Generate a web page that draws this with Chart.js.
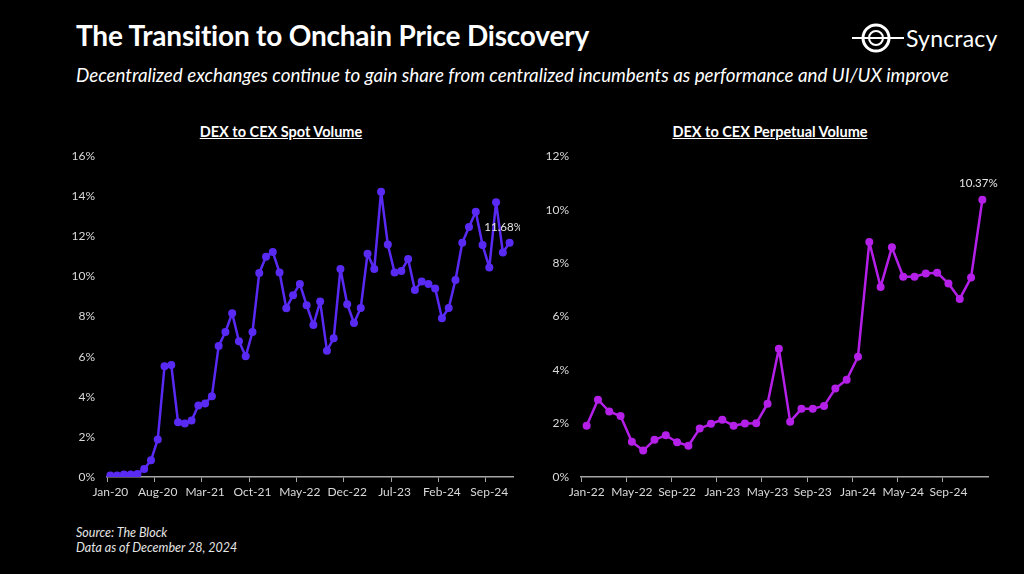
<!DOCTYPE html>
<html>
<head>
<meta charset="utf-8">
<script src="https://cdn.jsdelivr.net/npm/chart.js@4"></script>
<style>
  html, body { margin: 0; padding: 0; background: #000; }
  body { width: 1024px; height: 574px; position: relative; overflow: hidden; font-family: Lato, "Open Sans", sans-serif; color: #fff; }
  .title { position: absolute; left: 76px; top: 18px; font-size: 28px; font-weight: bold; letter-spacing: -0.2px; }
  .subtitle { position: absolute; left: 76px; top: 63px; font-size: 18.8px; font-style: italic; }
  .chart-title { position: absolute; top: 123px; font-size: 14.5px; font-weight: bold; text-decoration: underline; text-align: center; width: 300px; }
  .logo { position: absolute; left: 852px; top: 20px; display: flex; align-items: center; }
  .logo span { font-size: 23px; margin-left: 2px; letter-spacing: 0.2px; }
  .foot { position: absolute; left: 76px; top: 525px; font-size: 12.5px; font-style: italic; line-height: 15px; color: #e6e6e6; }
  .box { position: absolute; top: 145px; height: 360px; }
</style>
</head>
<body>
<div class="title">The Transition to Onchain Price Discovery</div>
<div class="subtitle">Decentralized exchanges continue to gain share from centralized incumbents as performance and UI/UX improve</div>
<div class="logo">
  <svg width="52" height="36" viewBox="0 0 52 36">
    <line x1="0" y1="18" x2="52" y2="18" stroke="#fff" stroke-width="2"/>
    <circle cx="24" cy="18" r="13" fill="none" stroke="#fff" stroke-width="3"/>
    <circle cx="24" cy="18" r="7" fill="none" stroke="#fff" stroke-width="2"/>
  </svg>
  <span>Syncracy</span>
</div>
<div class="chart-title" style="left:131px">DEX to CEX Spot Volume</div>
<div class="chart-title" style="left:620px">DEX to CEX Perpetual Volume</div>
<div class="box" style="left:60px;width:460px"><canvas id="spotChart"></canvas></div>
<div class="box" style="left:540px;width:460px"><canvas id="perpChart"></canvas></div>
<div class="foot">Source: The Block<br>Data as of December 28, 2024</div>

<script>
// DEX / CEX ratios (percent)
const spotMonths = [];
const perpMonths = [];
const MON = ['Jan','Feb','Mar','Apr','May','Jun','Jul','Aug','Sep','Oct','Nov','Dec'];
for (let y = 20; y <= 24; y++) for (let m = 0; m < 12; m++) spotMonths.push(MON[m] + '-' + y);
for (let y = 22; y <= 24; y++) for (let m = 0; m < 12; m++) perpMonths.push(MON[m] + '-' + y);

const spotValues = [
  0.07, 0.07, 0.12, 0.12, 0.15, 0.40, 0.83, 1.87, 5.52, 5.58,
  2.73, 2.67, 2.82, 3.57, 3.67, 4.03, 6.53, 7.23, 8.17, 6.77,
  6.02, 7.23, 10.17, 10.98, 11.22, 10.20, 8.42, 9.07, 9.63, 8.57,
  7.58, 8.75, 6.30, 6.92, 10.37, 8.62, 7.68, 8.43, 11.13, 10.38,
  14.23, 11.60, 10.20, 10.28, 10.87, 9.33, 9.75, 9.62, 9.40, 7.92,
  8.43, 9.83, 11.68, 12.47, 13.23, 11.57, 10.45, 13.70, 11.20, 11.68
];
const perpValues = [
  1.92, 2.89, 2.45, 2.28, 1.32, 0.99, 1.39, 1.56, 1.30, 1.17,
  1.81, 1.99, 2.14, 1.92, 2.00, 2.01, 2.74, 4.80, 2.07, 2.55,
  2.55, 2.66, 3.31, 3.64, 4.50, 8.79, 7.11, 8.59, 7.49, 7.49,
  7.61, 7.64, 7.24, 6.66, 7.46, 10.37
];

const spotColor = '#5a2af5';
const perpColor = '#b420e8';
const axisGrey = '#a6a6a6';
const tickText = '#d9d9d9';

// label the last point of a series
const lastLabel = {
  id: 'lastLabel',
  afterDatasetsDraw(chart, args, opts) {
    const meta = chart.getDatasetMeta(0);
    const pt = meta.data[meta.data.length - 1];
    const v = chart.data.datasets[0].data[meta.data.length - 1];
    const ctx = chart.ctx;
    ctx.save();
    ctx.fillStyle = '#e6e6e6';
    ctx.font = '11.5px Lato, "Open Sans", sans-serif';
    ctx.textAlign = 'center';
    ctx.textBaseline = 'middle';
    ctx.fillText(v.toFixed(2) + '%', pt.x + opts.dx, pt.y + opts.dy);
    ctx.restore();
  }
};

function makeChart(id, labels, values, color, yMax, every, yWidth, padRight, labelOffset) {
  new Chart(document.getElementById(id), {
    type: 'line',
    data: {
      labels: labels,
      datasets: [{
        data: values,
        borderColor: color,
        backgroundColor: color,
        borderWidth: 2.5,
        borderJoinStyle: 'round',
        pointRadius: 4,
        pointBackgroundColor: color,
        pointBorderWidth: 0,
        tension: 0
      }]
    },
    plugins: [lastLabel],
    options: {
      responsive: true,
      maintainAspectRatio: false,
      animation: false,
      layout: { padding: { top: 6, right: padRight, left: 0, bottom: 0 } },
      plugins: {
        legend: { display: false },
        tooltip: { enabled: false },
        lastLabel: labelOffset
      },
      scales: {
        x: {
          offset: true,
          grid: {
            offset: true,
            drawOnChartArea: false,
            drawTicks: true,
            tickLength: 5,
            color: (c) => (c.index % every === 0 ? axisGrey : 'rgba(0,0,0,0)')
          },
          border: { display: true, color: axisGrey, width: 1.5 },
          ticks: {
            autoSkip: false,
            maxRotation: 0,
            color: tickText,
            padding: 3,
            font: { family: 'Lato, "Open Sans", sans-serif', size: 12 },
            callback: function (val, i) { return i % every === 0 ? this.getLabelForValue(val) : ''; }
          },
          afterFit: (s) => { s.height = 28; }
        },
        y: {
          min: 0,
          max: yMax,
          grid: { display: false },
          border: { display: false },
          ticks: {
            stepSize: 2,
            color: tickText,
            padding: 4,
            font: { family: 'Lato, "Open Sans", sans-serif', size: 12 },
            callback: (v) => v + '%'
          },
          afterFit: (s) => { s.width = yWidth; }
        }
      }
    }
  });
}

makeChart('spotChart', spotMonths, spotValues, spotColor, 16, 7, 47, 7, { dx: -6, dy: -16 });
makeChart('perpChart', perpMonths, perpValues, perpColor, 12, 4, 41, 12, { dx: -4, dy: -16 });
</script>
</body>
</html>
